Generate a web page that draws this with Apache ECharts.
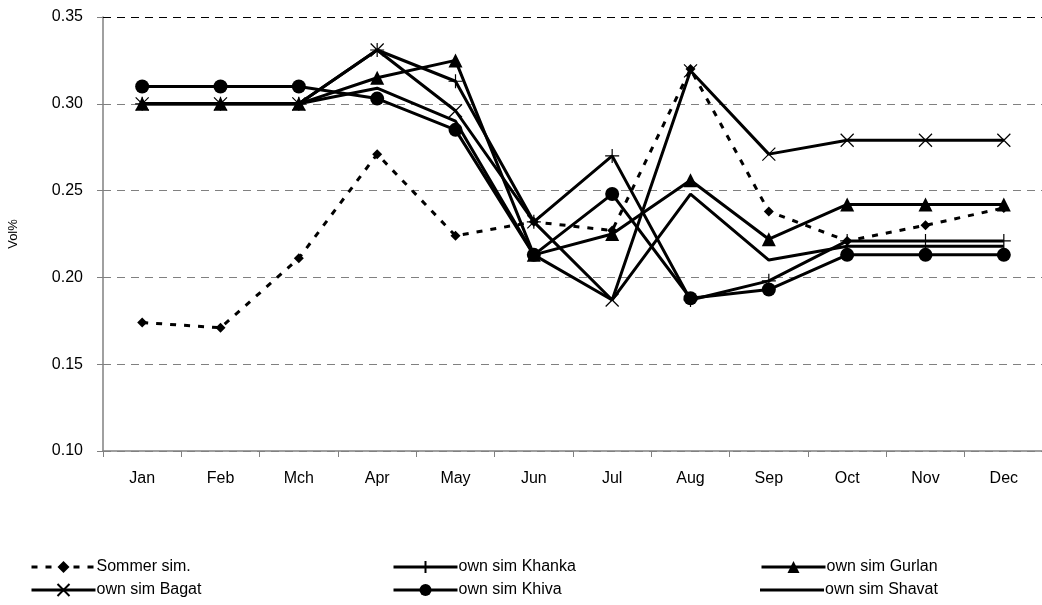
<!DOCTYPE html>
<html>
<head>
<meta charset="utf-8">
<script src="https://cdn.jsdelivr.net/npm/echarts@6/dist/echarts.min.js"></script>
<style>
  html, body { margin: 0; padding: 0; background: #fff; }
  #chart { width: 1042px; height: 605px; }
</style>
</head>
<body>
<div id="chart"></div>
<script>
// Monthly volumetric soil moisture (Vol%) per simulation
const months = ['Jan', 'Feb', 'Mch', 'Apr', 'May', 'Jun', 'Jul', 'Aug', 'Sep', 'Oct', 'Nov', 'Dec'];
const yTicks = { min: 0.10, max: 0.35, step: 0.05 };

const sommerSim   = [0.174, 0.171, 0.211, 0.271, 0.224, 0.232, 0.227, 0.320, 0.238, 0.221, 0.230, 0.240];
const ownKhanka   = [0.300, 0.300, 0.300, 0.331, 0.313, 0.232, 0.270, 0.187, 0.198, 0.221, 0.221, 0.221];
const ownGurlan   = [0.300, 0.300, 0.300, 0.315, 0.325, 0.213, 0.225, 0.256, 0.222, 0.242, 0.242, 0.242];
const ownBagat    = [0.300, 0.300, 0.300, 0.331, 0.296, 0.232, 0.187, 0.319, 0.271, 0.279, 0.279, 0.279];
const ownKhiva    = [0.310, 0.310, 0.310, 0.303, 0.285, 0.213, 0.248, 0.188, 0.193, 0.213, 0.213, 0.213];
const ownShavat   = [0.300, 0.300, 0.300, 0.309, 0.290, 0.213, 0.187, 0.248, 0.210, 0.218, 0.218, 0.218];

const FONT = '"Liberation Sans", Arial, sans-serif';
const PLUS = 'path://M5,0 L5,10 M0,5 L10,5';
const CROSS = 'path://M0,0 L10,10 M0,10 L10,0';
const BAR = 'path://M0,0 L64,0 L64,3 L0,3 Z';

function solid(name, data, symbol, size, strokeOnly) {
  return {
    name, type: 'line', data,
    symbol, symbolSize: size, showSymbol: symbol !== 'none',
    lineStyle: { color: '#000', width: 3 },
    itemStyle: strokeOnly
      ? { color: 'rgba(0,0,0,0)', borderColor: '#000', borderWidth: 1.2 }
      : { color: '#000', borderColor: '#000', borderWidth: 0 },
    emphasis: { disabled: true },
    animation: false
  };
}

const series = [
  {
    name: 'Sommer sim.', type: 'line', data: sommerSim,
    symbol: 'diamond', symbolSize: 10,
    lineStyle: { color: '#000', width: 3, type: [6, 8] },
    itemStyle: { color: '#000' },
    emphasis: { disabled: true },
    animation: false,
    // darker top gridline at the axis maximum
    markLine: {
      silent: true, symbol: 'none', label: { show: false },
      lineStyle: { color: '#000', type: [8, 6], width: 1 },
      data: [{ yAxis: yTicks.max }]
    }
  },
  solid('own sim Khanka', ownKhanka, PLUS, 14, true),
  solid('own sim Gurlan', ownGurlan, 'triangle', 14, false),
  solid('own sim Bagat', ownBagat, CROSS, 13, true),
  solid('own sim Khiva', ownKhiva, 'circle', 14, false),
  solid('own sim Shavat', ownShavat, 'none', 0, false)
];

// One legend entry per slot: three columns, two rows
const legendSlots = [
  ['Sommer sim.', 30, 559], ['own sim Khanka', 392, 559], ['own sim Gurlan', 760, 559],
  ['own sim Bagat', 30, 582], ['own sim Khiva', 392, 582], ['own sim Shavat', 760, 582]
];
const legends = legendSlots.map(([name, left, top]) => ({
  data: [name === 'own sim Shavat' ? { name, icon: BAR } : name],
  left, top, padding: 0,
  itemWidth: 64, itemHeight: 15, itemGap: 0,
  lineStyle: { width: 3 },
  textStyle: { fontFamily: FONT, fontSize: 16, color: '#000', padding: [0, 0, 0, -4] },
  selectedMode: false
}));

const chart = echarts.init(document.getElementById('chart'), null, { renderer: 'canvas' });
chart.setOption({
  backgroundColor: '#fff',
  animation: false,
  grid: { left: 103, top: 17, width: 940, height: 434, containLabel: false, outerBoundsMode: 'none' },
  legend: legends,
  xAxis: {
    type: 'category', data: months, boundaryGap: true,
    axisLine: { lineStyle: { color: '#808080', width: 1.5 } },
    axisTick: { show: true, length: 6, lineStyle: { color: '#808080' } },
    axisLabel: { fontFamily: FONT, fontSize: 16, color: '#000', margin: 20 },
    splitLine: { show: false }
  },
  yAxis: {
    type: 'value', min: yTicks.min, max: yTicks.max, interval: yTicks.step,
    name: 'Vol%', nameLocation: 'middle', nameGap: 83, nameRotate: 90,
    nameTextStyle: { fontFamily: FONT, fontSize: 13, color: '#000' },
    axisLine: { show: true, lineStyle: { color: '#808080', width: 1.5 } },
    axisTick: { show: true, length: 6, lineStyle: { color: '#808080' } },
    axisLabel: { fontFamily: FONT, fontSize: 16, color: '#000', margin: 20,
                 formatter: v => v.toFixed(2) },
    splitLine: { show: true, lineStyle: { color: '#808080', type: [8, 6], width: 1 } }
  },
  series
});
</script>
</body>
</html>
